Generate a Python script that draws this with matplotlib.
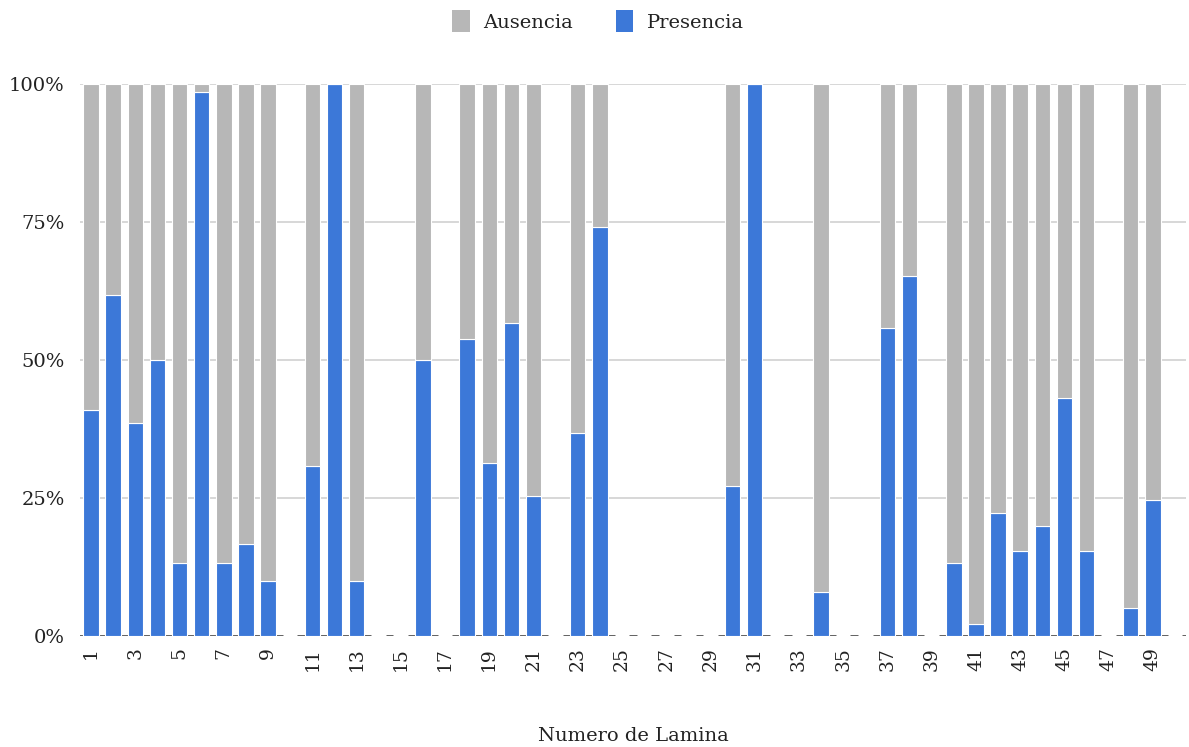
import numpy as np
import matplotlib
matplotlib.use("Agg")
import matplotlib.pyplot as plt
from matplotlib.patches import Patch

plt.rcParams['font.family'] = ['DejaVu Serif']

# numero de lamina 1..50, porcentaje con presencia (nan = sin datos)
lamina = np.arange(1, 51)
presencia = np.array([
    41.0, 61.7, 38.5, 50.0, 13.3, 98.5, 13.3, 16.7, 10.0, np.nan,
    30.8, 100.0, 10.0, np.nan, np.nan, 50.0, np.nan, 53.8, 31.3, 56.7,
    25.3, np.nan, 36.7, 74.1, np.nan, np.nan, np.nan, np.nan, np.nan, 27.2,
    100.0, np.nan, np.nan, 8.0, np.nan, np.nan, 55.8, 65.2, np.nan, 13.3,
    2.1, 22.2, 15.4, 20.0, 43.1, 15.4, np.nan, 5.1, 24.7, np.nan,
])
ausencia = 100 - presencia
tick_labels = [str(i) for i in lamina[::2]]

gris = '#b7b7b7'
azul = '#3c78d8'
texto = '#222222'

fig = plt.figure(figsize=(11.89, 7.47), dpi=100)
ax = fig.add_axes([0.0673, 0.1486, 0.9302, 0.739])

ok = ~np.isnan(presencia)
ax.bar(lamina[ok], presencia[ok], width=0.7, color=azul,
       edgecolor='white', linewidth=0.8, zorder=3)
ax.bar(lamina[ok], ausencia[ok], width=0.7, bottom=presencia[ok], color=gris,
       edgecolor='white', linewidth=0.8, zorder=3)

# grid
for y in [25, 50, 75, 100]:
    ax.axhline(y, color='#d4d4d4', lw=1.3, zorder=1)
# baseline, drawn as short dashes between categories
for b in np.arange(0.5, 51, 1.0):
    ax.hlines(0, b - 0.17, b + 0.17, color='#333333', lw=1.8, zorder=2)

ax.set_xlim(0.5, 50.5)
ax.set_ylim(0, 100)
ax.set_yticks([0, 25, 50, 75, 100])
ax.set_yticklabels(['0%', '25%', '50%', '75%', '100%'], fontsize=14, color=texto)
ax.set_xticks(lamina[::2])
ax.set_xticklabels(tick_labels, rotation=90, fontsize=13.5, color=texto)
ax.tick_params(axis='both', length=0)
ax.tick_params(axis='x', pad=8)
ax.tick_params(axis='y', pad=11)
for s in ax.spines.values():
    s.set_visible(False)

ax.set_xlabel('Numero de Lamina', fontsize=14, color=texto, labelpad=40)

handles = [Patch(facecolor=gris, label='Ausencia'), Patch(facecolor=azul, label='Presencia')]
fig.legend(handles=handles, loc='upper center', bbox_to_anchor=(0.503, 1.01), ncol=2,
           frameon=False, fontsize=14, handlelength=0.9, handleheight=1.4,
           handletextpad=0.7, columnspacing=2.2, labelcolor=texto)

fig.savefig('out.png', dpi=100)
